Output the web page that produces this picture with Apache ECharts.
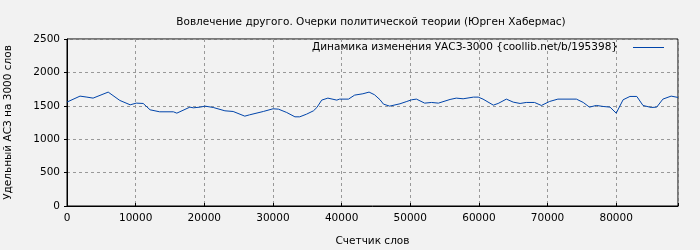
<!DOCTYPE html>
<html><head><meta charset="utf-8">
<script src="https://cdn.jsdelivr.net/npm/echarts@6/dist/echarts.min.js"></script>
<style>html,body{margin:0;padding:0;background:#f2f2f2}#c{width:700px;height:250px}</style>
</head><body><div id="c"></div>
<script>
const chartTitle = 'Вовлечение другого. Очерки политической теории (Юрген Хабермас)';
const seriesName = 'Динамика изменения УАСЗ-3000 {coollib.net/b/195398}';
const xName = 'Счетчик слов';
const yName = 'Удельный АСЗ на 3000 слов';
const words = [0,1900,2900,3800,6000,7700,9200,10100,11100,12100,13500,15500,16000,17900,18400,19400,20100,21300,23000,24200,25900,26600,28600,30000,30800,32000,33200,33900,34900,35900,36400,37100,38000,39300,39700,41000,41900,43100,44000,44800,45600,46100,47000,48500,49500,50200,50900,52100,53100,54100,55800,56700,57700,59200,59900,60600,62100,62800,64000,65000,66000,66900,68100,69100,70300,71500,74200,75200,76100,77100,78100,79100,80000,81000,82000,83000,83900,85100,85900,86800,88000,89000];
const values = [1556,1645,1630,1615,1705,1580,1515,1540,1535,1440,1410,1410,1390,1480,1470,1480,1495,1475,1425,1415,1345,1365,1415,1455,1450,1400,1335,1335,1375,1425,1475,1585,1615,1585,1600,1600,1660,1680,1705,1665,1590,1525,1495,1530,1565,1590,1600,1540,1550,1540,1595,1615,1605,1630,1630,1600,1510,1535,1600,1555,1535,1550,1550,1505,1565,1600,1600,1550,1480,1505,1490,1480,1390,1590,1640,1640,1505,1475,1480,1600,1645,1625];
const xMax = 89000;
const yMax = 2500;
const font = 'DejaVu Sans';
const fs = 10.5;
const chart = echarts.init(document.getElementById('c'));
chart.setOption({
  backgroundColor: '#f2f2f2',
  animation: false,
  textStyle: {fontFamily: font},
  title: {text: chartTitle, left: 366, top: 12, textAlign: 'center',
    textStyle: {fontFamily: font, fontSize: fs, fontWeight: 'normal', color: '#000'}},
  legend: {top: 42, right: 36, padding: 0, align: 'right', itemWidth: 31, itemHeight: 1, itemGap: 0,
    textStyle: {fontFamily: font, fontSize: fs, color: '#000', padding: [0, 10, 0, 0]},
    data: [{name: seriesName, icon: 'rect', itemStyle: {color: '#0044aa'}}]},
  grid: {left: 67, right: 22, top: 39, bottom: 44, containLabel: false, outerBoundsMode: 'none',
    show: true, borderColor: '#000', borderWidth: 1},
  xAxis: {type: 'value', min: 0, max: xMax, interval: 10000,
    name: xName, nameLocation: 'middle', nameGap: 30,
    nameTextStyle: {fontFamily: font, fontSize: fs, color: '#000'},
    axisLine: {lineStyle: {color: '#000'}},
    axisTick: {inside: true, length: 3, lineStyle: {color: '#000'}},
    axisLabel: {fontFamily: font, fontSize: fs, color: '#000', margin: 7,
      formatter: v => v >= xMax ? '' : String(v)},
    splitLine: {show: true, lineStyle: {color: '#999', type: [3, 3]}}},
  yAxis: {type: 'value', min: 0, max: yMax, interval: 500,
    name: yName, nameLocation: 'middle', nameGap: 53,
    nameTextStyle: {fontFamily: font, fontSize: fs, color: '#000'},
    axisLine: {show: true, lineStyle: {color: '#000'}},
    axisTick: {show: true, inside: false, length: 3, lineStyle: {color: '#000'}},
    axisLabel: {fontFamily: font, fontSize: fs, color: '#000', margin: 7,
      formatter: v => String(v)},
    splitLine: {show: true, lineStyle: {color: '#999', type: [3, 3]}}},
  series: [{name: seriesName, type: 'line', showSymbol: false, smooth: false,
    color: '#0044aa', lineStyle: {width: 1, color: '#0044aa'},
    data: words.map((w, i) => [w, values[i]])}]
});
</script></body></html>
